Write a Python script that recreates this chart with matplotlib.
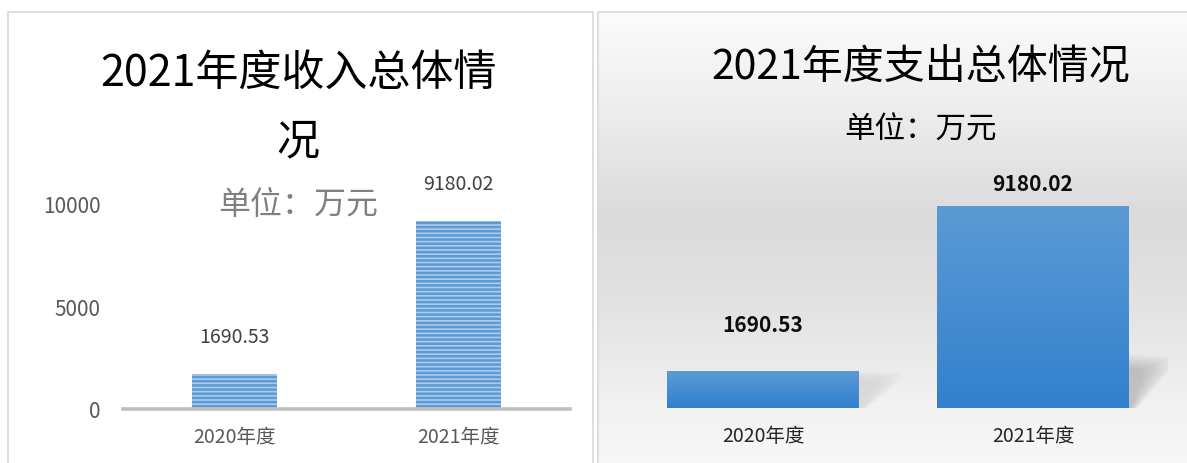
import numpy as np
import matplotlib
matplotlib.use("Agg")
from matplotlib import pyplot as plt
from matplotlib.patches import Rectangle, Polygon
from matplotlib.colors import LinearSegmentedColormap

plt.rcParams['font.family'] = ['Noto Sans CJK SC', 'DejaVu Sans']
plt.rcParams['hatch.linewidth'] = 1.8

# data
categories = ["2020年度", "2021年度"]
income = [1690.53, 9180.02]
expense = [1690.53, 9180.02]
income_title = "2021年度收入总体情\n况"
expense_title = "2021年度支出总体情况"
unit = "单位：万元"
yticks = [0, 5000, 10000]

W, H = 1187, 464
fig = plt.figure(figsize=(W / 100, H / 100), dpi=100)
fig.patch.set_facecolor("white")


def box(x, y, w, h):
    # pixel box (top-left origin) -> figure fraction
    return [x / W, 1 - (y + h) / H, w / W, h / H]


# panel frames
fig.add_artist(Rectangle((8 / W, -0.1), 585 / W, 1.1 - 13 / H, transform=fig.transFigure,
                         fill=False, edgecolor="#d9d9d9", lw=1.2))

# right panel background gradient
bg = fig.add_axes(box(598, 13, 600, 460), zorder=0)
stops = [(0.0, "#fbfbfb"), (0.2, "#eeeeee"), (0.45, "#dadada"), (0.65, "#e3e3e3"),
         (0.85, "#f1f1f1"), (1.0, "#f8f8f8")]
bg_cmap = LinearSegmentedColormap.from_list("bg", stops)
bg.imshow(np.linspace(0, 1, 256).reshape(-1, 1), aspect="auto", cmap=bg_cmap,
          extent=[0, 1, 0, 1], origin="upper")
bg.set_axis_off()
fig.add_artist(Rectangle((598 / W, -0.1), 0.7, 1.1 - 13 / H, transform=fig.transFigure,
                         fill=False, edgecolor="#d9d9d9", lw=1.2))

x = np.arange(len(categories))

# ---------------- left chart ----------------
ax1 = fig.add_axes(box(123, 205, 447, 205), zorder=2)
ax1.patch.set_alpha(0)
bars1 = ax1.bar(x, income, width=0.38, color="#aecbeb", edgecolor="#5b9bd5",
                linewidth=0, hatch="----")
ax1.set_xlim(-0.5, 1.5)
ax1.set_ylim(0, 10000)
ax1.set_yticks(yticks)
ax1.set_yticklabels([str(v) for v in yticks])
ax1.set_xticks(x)
ax1.set_xticklabels(categories)
for s in ["top", "right", "left"]:
    ax1.spines[s].set_visible(False)
ax1.spines["bottom"].set_color("#bfbfbf")
ax1.spines["bottom"].set_linewidth(2.6)
ax1.tick_params(axis="y", length=0, pad=16, labelsize=15, labelcolor="#595959")
ax1.tick_params(axis="x", length=0, pad=12, labelsize=14, labelcolor="#595959")
for b, v in zip(bars1, income):
    ax1.annotate(f"{v:.2f}", (b.get_x() + b.get_width() / 2, v), xytext=(0, 27),
                 textcoords="offset points", ha="center", va="center",
                 fontsize=14, color="#404040", annotation_clip=False)

fig.text(298 / W, 1 - 108 / H, income_title, ha="center", va="center",
         multialignment="center", fontsize=31, linespacing=1.7, color="black")
fig.text(298 / W, 1 - 205 / H, unit, ha="center", va="center", fontsize=23,
         color="#808080", zorder=3)

# ---------------- right chart ----------------
ax2 = fig.add_axes(box(628, 189, 540, 220), zorder=2)
ax2.patch.set_alpha(0)
bars2 = ax2.bar(x, expense, width=0.71, color="#4a8fd3", linewidth=0)
ax2.set_xlim(-0.5, 1.5)
ax2.set_ylim(0, 10000)
ax2.set_yticks([])
ax2.set_xticks(x)
ax2.set_xticklabels(categories)
for s in ax2.spines.values():
    s.set_visible(False)
ax2.tick_params(axis="x", length=0, pad=12, labelsize=14, labelcolor="#262626")

bar_cmap = LinearSegmentedColormap.from_list("bar", ["#5b9bd5", "#3280cd"])
for b in bars2:
    bx, bw, bh = b.get_x(), b.get_width(), b.get_height()
    # soft shadow on the right side, built up from thin translucent layers
    sh = min(bh, 2450)
    n = 14
    for k in range(n):
        t = k / (n - 1)
        d = 0.16 * (1 - 0.7 * t)
        top = sh * (1 - 0.25 * t)
        poly = Polygon([(bx + bw, top), (bx + bw + d, top * 0.95), (bx + bw + d, top * 0.75),
                        (bx + bw + d * 0.2, 0), (bx + bw, 0)],
                       closed=True, facecolor="#606060", edgecolor="none",
                       alpha=0.022 if bh > 3000 else 0.008, zorder=1)
        ax2.add_patch(poly)
    b.set_zorder(2)
    im = ax2.imshow(np.linspace(0, 1, 128).reshape(-1, 1), aspect="auto", cmap=bar_cmap,
                    extent=[bx, bx + bw, 0, bh], origin="upper", zorder=3)
    im.set_clip_path(b)

ax2.set_xlim(-0.5, 1.5)
ax2.set_ylim(0, 10000)

label_offsets = [33, 16]
for b, v, off in zip(bars2, expense, label_offsets):
    ax2.annotate(f"{v:.2f}", (b.get_x() + b.get_width() / 2, v), xytext=(0, off),
                 textcoords="offset points", ha="center", va="center",
                 fontsize=15, fontweight="bold", color="#0d0d0d", annotation_clip=False)

fig.text(921 / W, 1 - 68 / H, expense_title, ha="center", va="center", fontsize=29.5,
         color="black", zorder=3)
fig.text(921 / W, 1 - 130 / H, unit, ha="center", va="center", fontsize=22,
         color="black", zorder=3)

plt.savefig("out.png", dpi=100)
plt.close()
